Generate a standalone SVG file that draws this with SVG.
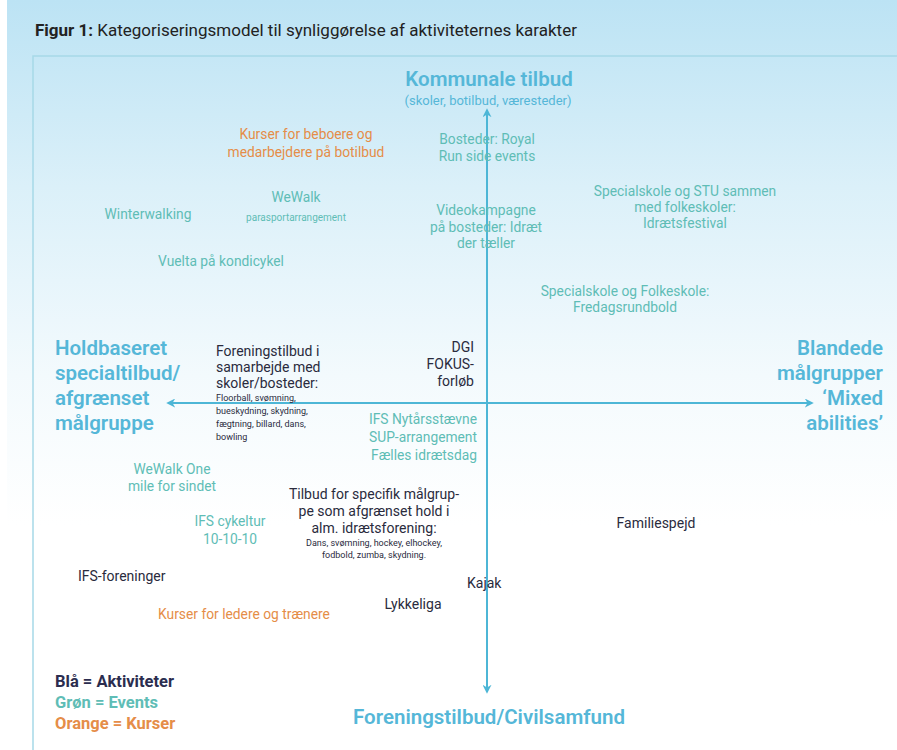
<svg xmlns="http://www.w3.org/2000/svg" width="897" height="750" viewBox="0 0 897 750">
<defs>
<linearGradient id="bg" x1="0" y1="0" x2="0" y2="1">
<stop offset="0" stop-color="#bce3f4"/>
<stop offset="0.25" stop-color="#dbf0f9"/>
<stop offset="0.5" stop-color="#f3fafd"/>
<stop offset="0.7" stop-color="#ffffff"/>
<stop offset="1" stop-color="#ffffff"/>
</linearGradient>
<marker id="ah" viewBox="0 0 10 10" refX="8" refY="5" markerWidth="9" markerHeight="9" orient="auto-start-reverse" markerUnits="userSpaceOnUse">
<path d="M0,0 L10,5 L0,10 L3,5 Z" fill="#4db6d6"/>
</marker>
<style>
text{font-family:Roboto,"Open Sans",sans-serif;}
.t{font-size:17px;fill:#222;}
.ax{font-size:20.5px;font-weight:600;fill:#55b7d8;}
.axs{font-size:13px;fill:#55b7d8;}
.g{font-size:13.8px;fill:#5fbdb6;}
.o{font-size:13.8px;fill:#e58d48;}
.d{font-size:14px;fill:#2a2b3d;}
.sm{font-size:9px;fill:#2a2b3d;}
.gsm{font-size:10px;fill:#5fbdb6;}
.c{text-anchor:middle;}
.r{text-anchor:end;}
.leg{font-size:16.5px;font-weight:700;}
</style>
</defs>
<rect x="0" y="0" width="897" height="750" fill="url(#bg)"/>
<rect x="0" y="0" width="7" height="750" fill="#ffffff"/>
<g id="frame" fill="none" stroke="#a6d9e8" stroke-width="1.5">
<path d="M33,750 L33,56 L897,56"/>
</g>
<g id="title"><text class="t" x="35" y="36"><tspan font-weight="700">Figur 1:</tspan> Kategoriseringsmodel til synliggørelse af aktiviteternes karakter</text></g>
<g id="connectors" stroke="#4db6d6" stroke-width="2" fill="none">
<line x1="487" y1="690" x2="487" y2="110" marker-end="url(#ah)"/>
<line x1="487" y1="400" x2="487" y2="692" marker-end="url(#ah)"/>
<line x1="168" y1="403" x2="812" y2="403" marker-start="url(#ah)" marker-end="url(#ah)"/>
</g>
<g id="axis-top"><text class="ax c" x="489" y="86">Kommunale tilbud</text><text class="axs c" x="488" y="105">(skoler, botilbud, væresteder)</text></g>
<g id="axis-left"><text class="ax" x="55" y="355">Holdbaseret</text><text class="ax" x="55" y="380">specialtilbud/</text><text class="ax" x="55" y="405">afgrænset</text><text class="ax" x="55" y="430">målgruppe</text></g>
<g id="axis-right"><text class="ax r" x="883" y="355">Blandede</text><text class="ax r" x="883" y="380">målgrupper</text><text class="ax r" x="883" y="405">‘Mixed</text><text class="ax r" x="883" y="430">abilities’</text></g>
<g id="axis-bottom"><text class="ax c" x="489" y="724">Foreningstilbud/Civilsamfund</text></g>
<g id="n-kurser-beboere"><text class="o c" x="306" y="139">Kurser for beboere og</text><text class="o c" x="306" y="157">medarbejdere på botilbud</text></g>
<g id="n-bosteder-royal"><text class="g c" x="487" y="144">Bosteder: Royal</text><text class="g c" x="487" y="161">Run side events</text></g>
<g id="n-wewalk"><text class="g c" x="296" y="202">WeWalk</text><text class="gsm c" x="296" y="221">parasportarrangement</text></g>
<g id="n-winterwalking"><text class="g c" x="148" y="219">Winterwalking</text></g>
<g id="n-videokampagne"><text class="g c" x="486" y="215">Videokampagne</text><text class="g c" x="486" y="232">på bosteder: Idræt</text><text class="g c" x="486" y="248">der tæller</text></g>
<g id="n-stu"><text class="g c" x="685" y="196">Specialskole og STU sammen</text><text class="g c" x="685" y="212">med folkeskoler:</text><text class="g c" x="685" y="228">Idrætsfestival</text></g>
<g id="n-vuelta"><text class="g c" x="221" y="266">Vuelta på kondicykel</text></g>
<g id="n-fredagsrundbold"><text class="g c" x="625" y="296">Specialskole og Folkeskole:</text><text class="g c" x="625" y="312">Fredagsrundbold</text></g>
<g id="n-foreningstilbud"><text class="d" x="216" y="356">Foreningstilbud i</text><text class="d" x="216" y="372">samarbejde med</text><text class="d" x="216" y="388">skoler/bosteder:</text><text class="sm" x="216" y="401">Floorball, svømning,</text><text class="sm" x="216" y="414">bueskydning, skydning,</text><text class="sm" x="216" y="427">fægtning, billard, dans,</text><text class="sm" x="216" y="440">bowling</text></g>
<g id="n-dgi"><text class="d r" x="474" y="352">DGI</text><text class="d r" x="474" y="369">FOKUS-</text><text class="d r" x="474" y="386">forløb</text></g>
<g id="n-ifs-nytaar"><text class="g r" x="477" y="424">IFS Nytårsstævne</text><text class="g r" x="477" y="442">SUP-arrangement</text><text class="g r" x="477" y="460">Fælles idrætsdag</text></g>
<g id="n-wewalk-one"><text class="g c" x="172" y="474">WeWalk One</text><text class="g c" x="172" y="491">mile for sindet</text></g>
<g id="n-ifs-cykeltur"><text class="g c" x="230" y="526">IFS cykeltur</text><text class="g c" x="230" y="544">10-10-10</text></g>
<g id="n-tilbud-specifik"><text class="d c" x="374" y="499">Tilbud for specifik målgrup-</text><text class="d c" x="374" y="516">pe som afgrænset hold i</text><text class="d c" x="374" y="533">alm. idrætsforening:</text><text class="sm c" x="374" y="546">Dans, svømning, hockey, elhockey,</text><text class="sm c" x="374" y="558">fodbold, zumba, skydning.</text></g>
<g id="n-familiespejd"><text class="d c" x="656" y="528">Familiespejd</text></g>
<g id="n-ifs-foreninger"><text class="d" x="78" y="581">IFS-foreninger</text></g>
<g id="n-kajak"><text class="d" x="467" y="588">Kajak</text></g>
<g id="n-lykkeliga"><text class="d c" x="413" y="609">Lykkeliga</text></g>
<g id="n-kurser-ledere"><text class="o c" x="244" y="619">Kurser for ledere og trænere</text></g>
<g id="legend"><text class="leg" x="55" y="687" fill="#2b2d4f">Blå = Aktiviteter</text><text class="leg" x="55" y="708" fill="#5fbdb6">Grøn = Events</text><text class="leg" x="55" y="729" fill="#e58d48">Orange = Kurser</text></g>
</svg>
